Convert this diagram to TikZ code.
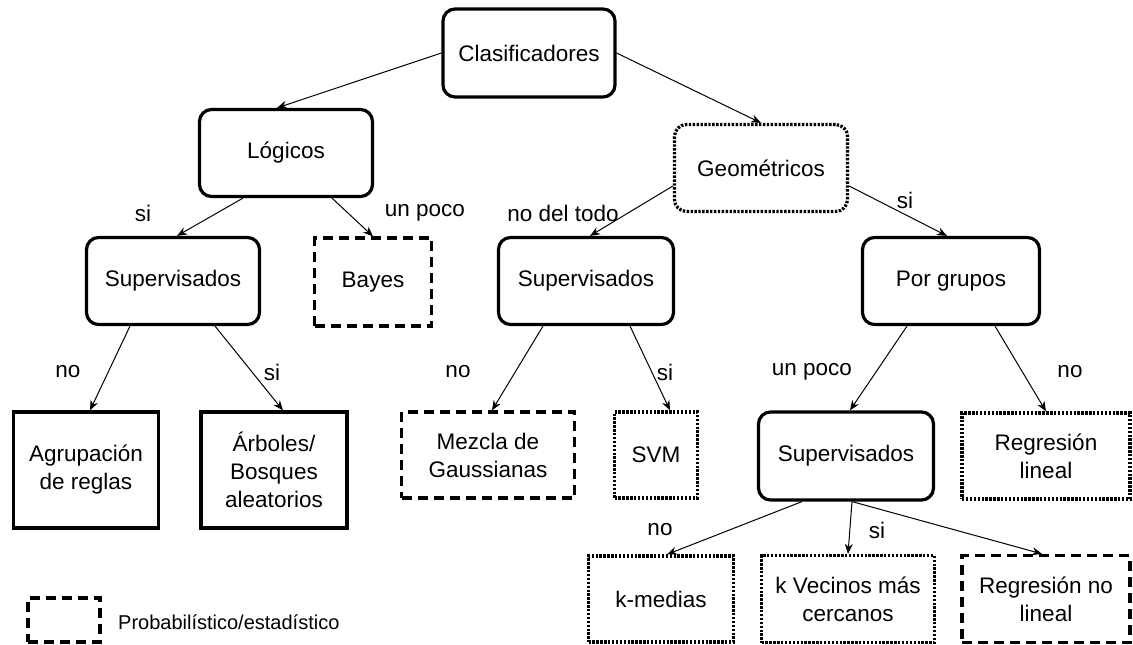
\documentclass[tikz,border=0pt]{standalone}
\usepackage{fontspec}
\setmainfont{Liberation Sans}
\usetikzlibrary{arrows.meta}
\begin{document}
\begin{tikzpicture}[x=1pt,y=-1pt,
  every node/.style={font=\fontsize{22.5}{28}\selectfont, align=center, inner sep=0pt},
  tbox/.style={draw, line width=3.2pt, minimum width=#1},
  tbox/.default=173pt,
  rbox/.style={tbox=#1, rounded corners=12pt, minimum height=87pt},
  rbox/.default=173pt,
  dotline/.style={dash pattern=on 2.4pt off 1.5pt},
  dashline/.style={dash pattern=on 10pt off 6pt},
  lbl/.style={},
  conn/.style={-{Stealth[length=10pt,width=8pt]}, line width=1pt}]
\useasboundingbox (0,0) rectangle (1133,645);

% level 0 and 1
\node[rbox=172pt, minimum height=88pt] (clas) at (529,53) {Clasificadores};
\node[rbox] (log) at (286,153) {Lógicos};
\node[rbox, dotline] (geo) at (761,168) {Geométricos};

% level 2
\node[rbox] (sup1) at (173,281) {Supervisados};
\node[tbox=117pt, minimum height=88pt, dashline] (bayes) at (373,282) {Bayes};
\node[rbox=175pt] (sup2) at (586,281) {Supervisados};
\node[rbox=177pt] (grp) at (951,281) {Por grupos};

% level 3
\node[tbox=145pt, minimum height=116pt] (agr) at (86,470) {Agrupación\\de reglas};
\node[tbox=146pt, minimum height=116pt] (arb) at (274,470) {Árboles/\\Bosques\\aleatorios};
\node[tbox=173pt, minimum height=86pt, dashline] (mez) at (488,455) {Mezcla de\\Gaussianas};
\node[tbox=83pt, minimum height=86pt, dotline] (svm) at (656,455) {SVM};
\node[rbox=175pt, minimum height=88pt] (sup3) at (846,456) {Supervisados};
\node[tbox=168pt, minimum height=86pt, dotline] (reglin) at (1046,456) {Regresión\\lineal};

% level 4
\node[tbox=145pt, minimum height=86pt, dotline] (kmed) at (661,599) {k-medias};
\node[tbox=173pt, minimum height=87pt, dotline] (knn) at (848,599) {k Vecinos más\\cercanos};
\node[tbox=168pt, minimum height=87pt, dashline] (regnl) at (1046,599) {Regresión no\\lineal};

% legend
\node[tbox=72pt, minimum height=44pt, dashline] (leg) at (64,620) {};
\node[anchor=west, font=\fontsize{20}{24}\selectfont] (legtxt) at (118,622) {Probabilístico/estadístico};

% connectors
\draw[conn] (clas.west) -- ([xshift=-9pt]log.north);
\draw[conn] (clas.east) -- (geo.north);
\draw[conn] ([xshift=-43pt]log.south) -- ([xshift=4pt]sup1.north);
\draw[conn] ([xshift=46pt]log.south) -- (bayes.north);
\draw[conn] ([yshift=-18pt]geo.west) -- ([xshift=4pt]sup2.north);
\draw[conn] ([yshift=-18pt]geo.east) -- ([xshift=-4pt]grp.north);
\draw[conn] ([xshift=-43pt]sup1.south) -- ([xshift=4pt]agr.north);
\draw[conn] ([xshift=42pt]sup1.south) -- ([xshift=9pt]arb.north);
\draw[conn] ([xshift=-43pt]sup2.south) -- ([xshift=4pt]mez.north);
\draw[conn] ([xshift=44pt]sup2.south) -- ([xshift=14pt]svm.north);
\draw[conn] ([xshift=-44pt]grp.south) -- ([xshift=4pt]sup3.north);
\draw[conn] ([xshift=44pt]grp.south) -- (reglin.north);
\draw[conn] ([xshift=-44pt]sup3.south) -- ([xshift=6pt]kmed.north);
\draw[conn] ([xshift=6pt]sup3.south) -- (knn.north);
\draw[conn] ([xshift=6pt]sup3.south) -- ([xshift=-4pt]regnl.north);

% edge labels
\node[lbl] (l1) at (143,213) {si};
\node[lbl] (l2) at (425,213) {un poco};
\node[lbl] (l3) at (563,213) {no del todo};
\node[lbl] (l4) at (905,200) {si};
\node[lbl] (l5) at (68,372) {no};
\node[lbl] (l6) at (272,372) {si};
\node[lbl] (l7) at (458,372) {no};
\node[lbl] (l8) at (665,372) {si};
\node[lbl] (l9) at (812,372) {un poco};
\node[lbl] (l10) at (1070,372) {no};
\node[lbl] (l11) at (660,530) {no};
\node[lbl] (l12) at (877,530) {si};
\end{tikzpicture}
\end{document}
